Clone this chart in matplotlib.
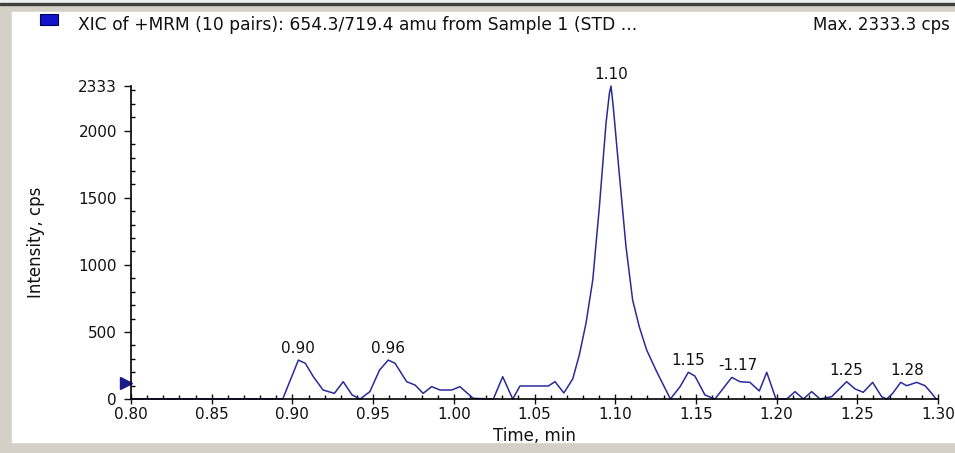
import matplotlib as mpl
mpl.use('Agg')
import matplotlib.pyplot as plt
import matplotlib.ticker as tick
from matplotlib.patches import Rectangle

# trace (time in min, intensity in cps)
vecT = [0.800, 0.894, 0.9037, 0.908, 0.913, 0.919, 0.926, 0.9315, 0.937, 0.942, 0.948, 0.954, 0.9594,
        0.9636, 0.9708, 0.976, 0.981, 0.9863, 0.9915, 0.9987, 1.0038, 1.012, 1.0245, 1.0303, 1.0365,
        1.041, 1.0586, 1.0627, 1.0682, 1.0737, 1.0778, 1.0819, 1.0861, 1.0902, 1.0943, 1.0964, 1.0974,
        1.0988, 1.1025, 1.1067, 1.1108, 1.1149, 1.1195, 1.1257, 1.1342, 1.1402, 1.1453, 1.1494, 1.1556,
        1.1618, 1.1722, 1.1773, 1.1835, 1.1893, 1.1939, 1.1996, 1.2063, 1.2114, 1.2166, 1.2217, 1.2269,
        1.2341, 1.2382, 1.2434, 1.2486, 1.2537, 1.2595, 1.2651, 1.2682, 1.2719, 1.2769, 1.2806, 1.2868,
        1.2920, 1.2961, 1.2988]
vecI = [0, 0, 290, 266, 166, 67, 42, 129, 30, 0, 55, 216, 290,
        266, 129, 104, 42, 92, 67, 67, 92, 5, 0, 166, 0,
        97, 97, 129, 45, 150, 330, 564, 887, 1433, 2054, 2278, 2333,
        2178, 1682, 1135, 738, 539, 365, 204, 0, 92, 199, 171, 30,
        0, 161, 129, 124, 60, 199, 0, 0, 55, 0, 55, 0,
        17, 67, 129, 75, 50, 124, 17, 0, 42, 124, 99, 124,
        99, 42, 0]

# peak labels
vecPeakLabel = ['0.90', '0.96', '1.10', '1.15', '-1.17', '1.25', '1.28']
vecPeakT     = [0.9037, 0.9594, 1.0974, 1.1453, 1.1760, 1.2434, 1.2810]
vecPeakI     = [290, 290, 2333, 199, 161, 129, 124]

threshI = 120   # threshold marker on the intensity axis

title   = "XIC of +MRM (10 pairs): 654.3/719.4 amu from Sample 1 (STD ..."
maxText = "Max. 2333.3 cps"

W, H = 955, 453
fig = plt.figure(figsize=(W/100, H/100), dpi=100, facecolor='#d4d0c8')
def px(x0, y0, w, h): return (x0/W, 1-(y0+h)/H, w/W, h/H)

# window frame
fig.add_artist(Rectangle((0, 1-3/H), 1, 3/H, transform=fig.transFigure, color='#f0f0f0', zorder=0))
fig.add_artist(Rectangle((0, 1-5/H), 1, 2/H, transform=fig.transFigure, color='#404040', zorder=0))
x0, y0, w0, h0 = px(12, 12, W-12, 430)
fig.add_artist(Rectangle((x0, y0), w0, h0, transform=fig.transFigure, color='white', zorder=0))
x0, y0, w0, h0 = px(40, 14, 18, 11)
fig.add_artist(Rectangle((x0, y0), w0, h0, transform=fig.transFigure, facecolor='#1414c8', edgecolor='#000060', linewidth=0.8, zorder=1))

fig.text(78/W, 1-25/H, title,   fontsize=12.3, va='center', ha='left', color='#111111')
fig.text(813/W, 1-25/H, maxText, fontsize=12, va='center', ha='left', color='#111111')

ax1 = fig.add_axes([131/W, 1-399/H, (938-131)/W, (399-86)/H])
ax1.set_facecolor('none')
ax1.plot(vecT, vecI, color='#2a2a9a', linewidth=1.1, clip_on=False)
ax1.plot([-0.0065], [threshI], marker='>', markersize=9, color='#1a1a8c',
         transform=ax1.get_yaxis_transform(), clip_on=False, linestyle='none')

for lab, t, i in zip(vecPeakLabel, vecPeakT, vecPeakI):
    ax1.annotate(lab, xy=(t, i), xytext=(0, 3), textcoords='offset points',
                 ha='center', va='bottom', fontsize=11, color='#111111', annotation_clip=False)

ax1.spines['top'].set_visible(False)
ax1.spines['right'].set_visible(False)
ax1.spines['left'].set_linewidth(1.2)
ax1.spines['bottom'].set_linewidth(1.2)

ax1.set_xlim(0.80, 1.30)
ax1.xaxis.set_major_locator(tick.MultipleLocator(0.05))
ax1.xaxis.set_minor_locator(tick.MultipleLocator(0.01))
ax1.xaxis.set_major_formatter(tick.FormatStrFormatter('%.2f'))

ax1.set_ylim(0, 2333)
ax1.set_yticks([0, 500, 1000, 1500, 2000, 2333])
ax1.yaxis.set_minor_locator(tick.MultipleLocator(100))

ax1.tick_params(which='major', direction='inout', length=7, width=1, labelsize=11, pad=2, colors='#111111')
ax1.tick_params(which='minor', direction='in', length=3, width=1)
ax1.tick_params(axis='y', which='major', direction='out', length=5, pad=5)

ax1.set_xlabel("Time, min", fontsize=12, labelpad=4, color='#111111')
ax1.set_ylabel("Intensity, cps", fontsize=12, labelpad=24, color='#111111')

plt.savefig('out.png', dpi=100, facecolor=fig.get_facecolor())
